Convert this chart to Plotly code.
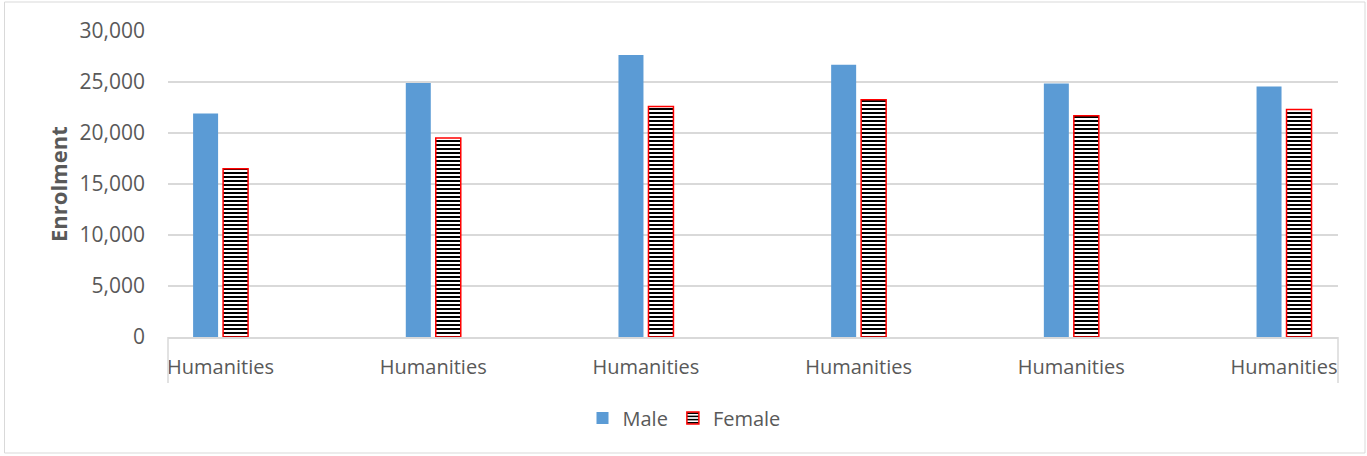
import plotly.graph_objects as go

categories = ["Humanities", "Humanities", "Humanities", "Humanities", "Humanities", "Humanities"]
male = [21900, 24900, 27650, 26700, 24850, 24550]
female = [16500, 19500, 22600, 23250, 21700, 22300]
y_ticks = [0, 5000, 10000, 15000, 20000, 25000, 30000]
y_tick_labels = ["0", "5,000", "10,000", "15,000", "20,000", "25,000", "30,000"]

pos = list(range(len(categories)))
FONT = "Open Sans"
GREY = "#595959"

fig = go.Figure()
fig.add_trace(go.Bar(
    x=pos, y=male, name="Male",
    width=0.1175, offset=-0.129,
    marker=dict(color="#5b9bd5", line=dict(width=0)),
))
fig.add_trace(go.Bar(
    x=pos, y=female, name="Female",
    width=0.1175, offset=0.012,
    marker=dict(
        color="white",
        line=dict(color="#ff0000", width=1.5),
        pattern=dict(shape="-", fgcolor="black", bgcolor="white", fgopacity=1,
                     size=4, solidity=0.5, fillmode="replace"),
    ),
))

W, H = 1367, 456
L, R, T, B = 168, 1338, 31, 337
pw, ph = R - L, B - T

def px(x):
    return (x - L) / pw

def py(y):
    return (B - y) / ph

shapes = [
    dict(type="rect", xref="paper", yref="paper", x0=px(4.5), x1=px(1365), y0=py(2), y1=py(453),
         line=dict(color="#d9d9d9", width=1), layer="below"),
    dict(type="line", xref="paper", yref="paper", x0=0, x1=0, y0=0, y1=py(383),
         line=dict(color="#d9d9d9", width=1.5)),
    dict(type="line", xref="paper", yref="paper", x0=1, x1=1, y0=0, y1=py(383),
         line=dict(color="#d9d9d9", width=1.5)),
]

fig.update_layout(
    width=W, height=H,
    margin=dict(l=L, r=W - R, t=T, b=H - B, pad=0),
    paper_bgcolor="white", plot_bgcolor="white",
    barmode="overlay",
    font=dict(family=FONT, size=20, color=GREY),
    showlegend=True,
    legend=dict(orientation="h", x=px(684), xanchor="center", y=py(418), yanchor="middle",
                font=dict(family=FONT, size=20, color=GREY), itemwidth=30, traceorder="normal",
                tracegroupgap=0),
    shapes=shapes,
    annotations=[dict(text="<b>Enrolment</b>", xref="paper", yref="paper", x=px(58), y=0.5,
                      textangle=-90, showarrow=False, font=dict(family=FONT, size=22, color=GREY),
                      xanchor="center", yanchor="middle")],
    xaxis=dict(
        range=[-0.247, 5.254], tickmode="array", tickvals=pos, ticktext=categories,
        showgrid=False, zeroline=False, showline=True, linecolor="#d9d9d9", linewidth=1.5,
        ticks="", ticklabelstandoff=11, tickfont=dict(family=FONT, size=20, color=GREY),
    ),
    yaxis=dict(
        range=[0, 30000], tickmode="array", tickvals=y_ticks, ticktext=y_tick_labels,
        showgrid=True, gridcolor="#d9d9d9", gridwidth=1.5, zeroline=False, showline=False,
        ticks="", ticklabelstandoff=22, tickfont=dict(family=FONT, size=21, color=GREY),
    ),
)

fig.write_html("out.html")
